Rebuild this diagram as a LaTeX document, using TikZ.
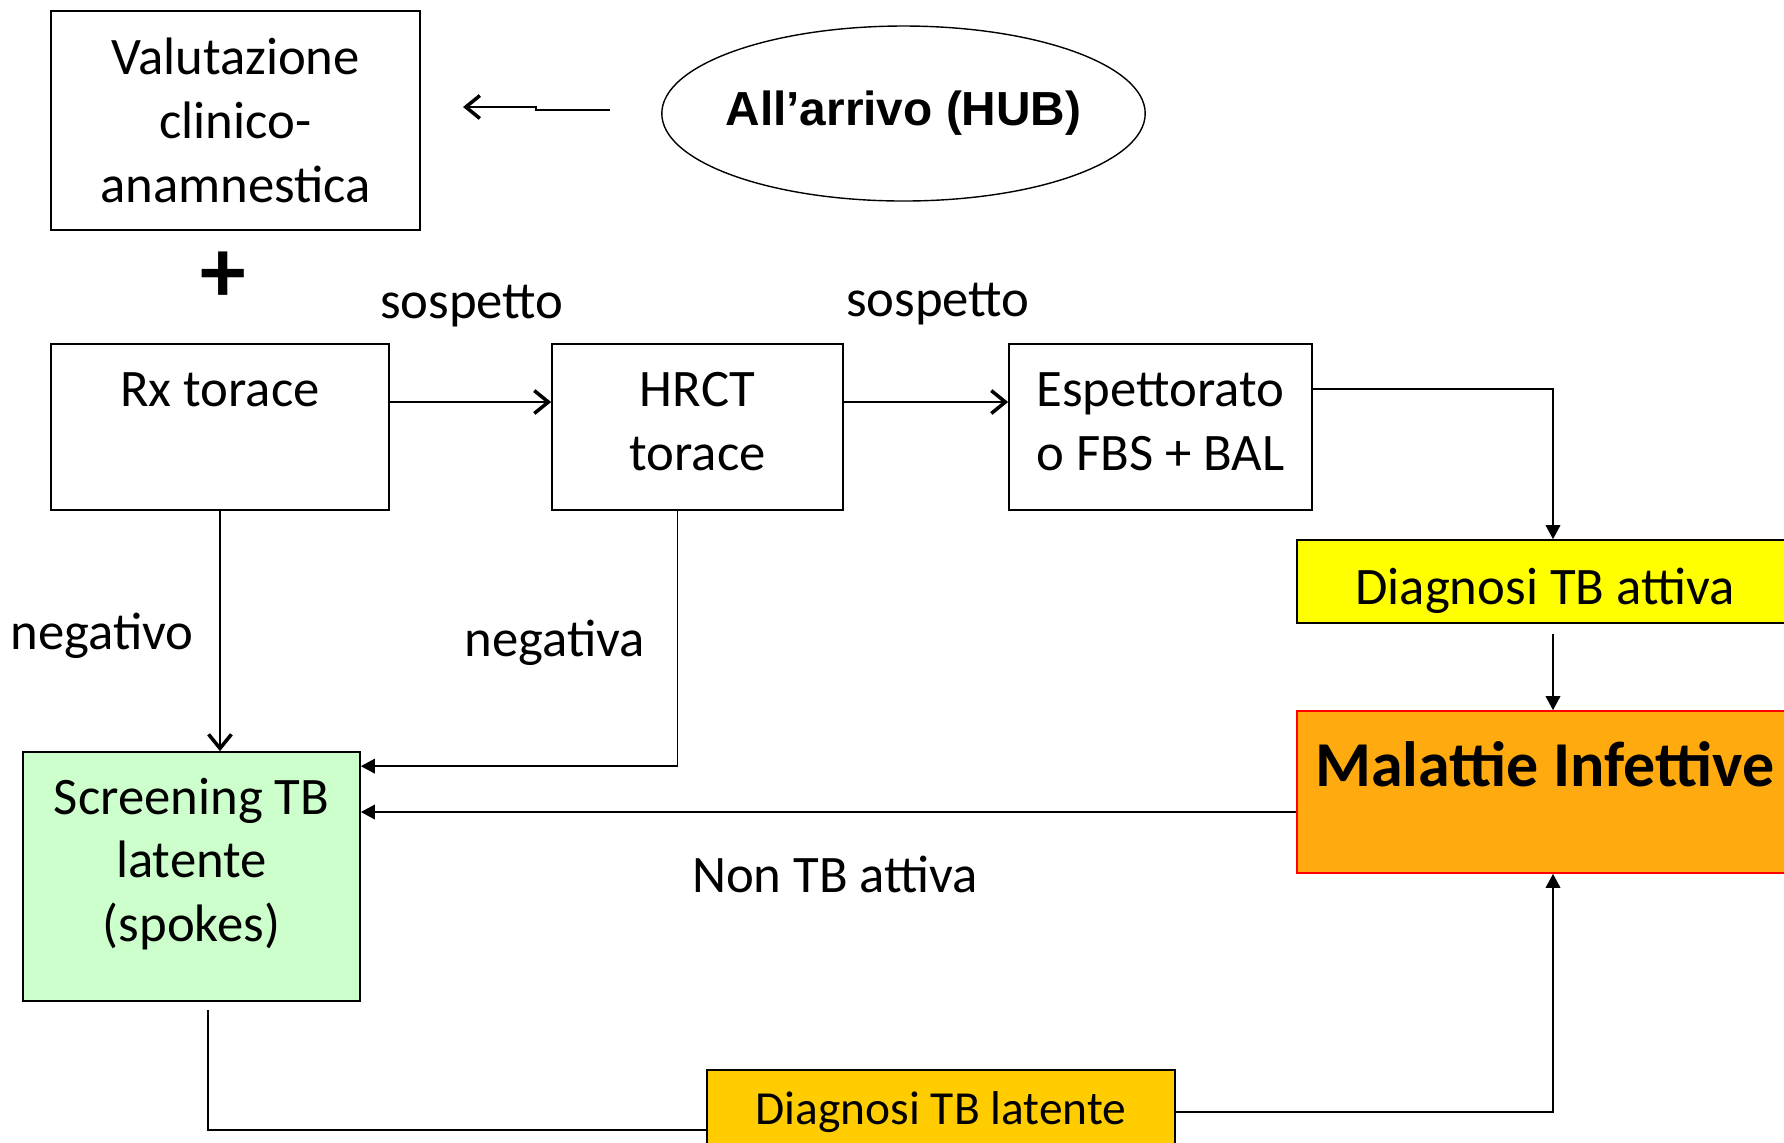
\documentclass[tikz,border=0pt]{standalone}
\usepackage{fontspec}
\setmainfont{Carlito}
\newfontfamily\arialfont{Liberation Sans}
\usepackage{xcolor}
\usetikzlibrary{arrows.meta, shapes.geometric, positioning}

\definecolor{attivayellow}{HTML}{FFFF00}
\definecolor{infettorange}{HTML}{FFAA0E}
\definecolor{latentegold}{HTML}{FFCC00}
\definecolor{screengreen}{HTML}{CCFFCC}

\begin{document}
\begin{tikzpicture}[
    font=\fontsize{15}{18.2}\selectfont,
    box/.style={draw, rectangle, line width=0.5pt, align=center, inner sep=0pt},
    openarr/.style={-{Straight Barb[length=4pt,width=6.5pt,line width=1pt]}, line width=0.4pt},
    fillarr/.style={-{Triangle[length=4pt,width=4.2pt]}, line width=0.4pt}
  ]
  \useasboundingbox (0,0) rectangle (17.84,-11.42);
  % Arrival
  \node[box, minimum width=3.69cm, minimum height=2.19cm] (val) at (2.355,-1.205)
    {Valutazione\\clinico-\\anamnestica};
  \node[draw, ellipse, line width=0.4pt, inner xsep=-2pt, minimum width=4.83cm, minimum height=1.75cm,
        font=\arialfont\bfseries\fontsize{13.6}{16}\selectfont] (hub) at (9.035,-1.135)
    {All’arrivo (HUB)};
  \coordinate (hubtail) at (6.10,-1.10);
  \coordinate (valtip) at (4.63,-1.07);
  \draw[openarr] (hubtail) -- ++(-0.74,0) |- (valtip);
  \node[font=\bfseries\fontsize{26}{30}\selectfont] (plus) at (2.23,-2.77) {+};
  % Exams
  \node[box, minimum width=3.38cm, minimum height=1.66cm,
        text height=10pt, text depth=21.4pt] (rx) at (2.20,-4.27) {Rx torace};
  \node[box, minimum width=2.91cm, minimum height=1.66cm] (hrct) at (6.975,-4.27)
    {HRCT\\torace\\[-15pt]\mbox{}};
  \node[box, minimum width=3.03cm, minimum height=1.66cm] (esp) at (11.605,-4.27)
    {Espettorato\\o FBS + BAL\\[-15pt]\mbox{}};
  \draw[openarr] ([yshift=2.5mm]rx.east) -- ([yshift=2.5mm]hrct.west);
  \draw[openarr] ([yshift=2.5mm]hrct.east) -- ([yshift=2.5mm]esp.west);
  \node (sosp1) at (4.72,-3.065) {sospetto};
  \node (sosp2) at (9.38,-3.045) {sospetto};
  % Outcomes
  \node[box, fill=attivayellow, minimum width=4.96cm, minimum height=0.83cm,
        text height=14pt, text depth=1.2pt] (attiva)
    at (15.45,-5.815) {Diagnosi TB attiva};
  \node[box, draw=red, fill=infettorange, minimum width=4.96cm, minimum height=1.62cm,
        font=\bfseries\fontsize{18.2}{22}\selectfont,
        text height=13pt, text depth=16.4pt] (malinf) at (15.45,-7.92)
    {Malattie Infettive};
  \node[box, fill=screengreen, minimum width=3.37cm, minimum height=2.49cm] (screen)
    at (1.915,-8.765) {Screening TB\\latente\\(spokes)\\[-8.7pt]\mbox{}};
  \node[box, fill=latentegold, minimum width=4.68cm, minimum height=0.84cm,
        font=\fontsize{13.5}{16}\selectfont] (latente) at (9.41,-11.12)
    {Diagnosi TB latente};
  \draw[fillarr] ([yshift=3.8mm]esp.east) -| ([xshift=0.8mm]attiva.north);
  \draw[fillarr] ([xshift=0.8mm,yshift=-1mm]attiva.south) -- ([xshift=0.8mm]malinf.north);
  \draw[fillarr] ([yshift=-2mm]malinf.west) -- ([yshift=-2mm]malinf.west -| screen.east);
  \draw[openarr] (rx.south) -- (rx.south |- screen.north);
  \draw[fillarr] ([xshift=-2mm]hrct.south) |- ([yshift=-1.5mm]screen.north east);
  \draw ([xshift=1.65mm,yshift=-0.8mm]screen.south) |- ([yshift=-1.8mm]latente.west);
  \draw[fillarr] (latente.east) -| ([xshift=0.8mm]malinf.south);
  \node (neg1) at (1.02,-6.355) {negativo};
  \node (neg2) at (5.55,-6.43) {negativa};
  \node (nonatt) at (8.35,-8.74) {Non TB attiva};
\end{tikzpicture}
\end{document}
